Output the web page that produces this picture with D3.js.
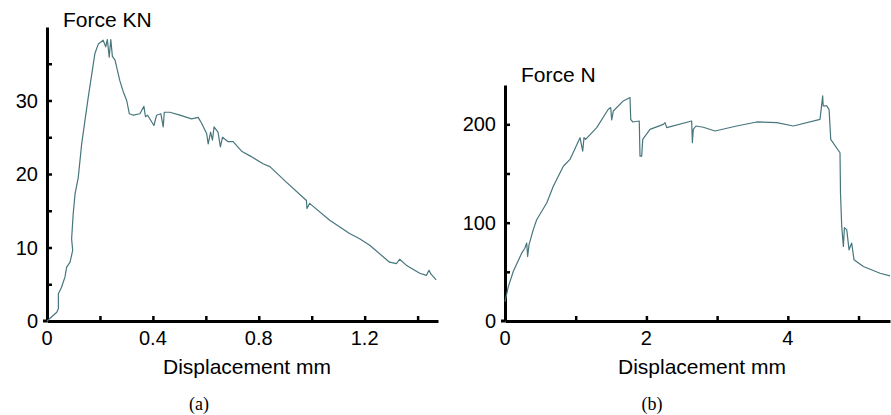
<!DOCTYPE html>
<html>
<head>
<meta charset="utf-8">
<style>
  body { margin: 0; background: #fff; }
  svg { display: block; }
  .curve { fill: none; stroke: #47767c; stroke-width: 1.2px; stroke-linejoin: round; }
  .axis path, .axis line { stroke: #000; }
  .axis path { stroke-width: 3px; }
  .axis line { stroke-width: 2.5px; }
  .axis text { font-family: "Liberation Sans", Arial, sans-serif; font-size: 20px; fill: #000; }
  .title { font-family: "Liberation Sans", Arial, sans-serif; font-size: 21px; fill: #000; }
  .caption { font-family: "Liberation Serif", "Times New Roman", serif; font-size: 18px; fill: #000; }
</style>
</head>
<body>
<svg width="891" height="415"></svg>
<script src="https://d3js.org/d3.v7.min.js"></script>
<script>

// (a) force in kN against displacement in mm
var dispA = [0, 0.037, 0.043, 0.043, 0.055, 0.068, 0.074, 0.087, 0.097, 0.093, 0.099, 0.106, 0.118, 0.131, 0.156,
  0.181, 0.194, 0.212, 0.222, 0.228, 0.235, 0.241, 0.247, 0.257, 0.275, 0.288, 0.301, 0.311, 0.326, 0.351,
  0.366, 0.372, 0.38, 0.404, 0.414, 0.43, 0.439, 0.443, 0.464, 0.502, 0.546, 0.571, 0.584, 0.603, 0.609,
  0.618, 0.625, 0.631, 0.646, 0.655, 0.663, 0.684, 0.703, 0.735, 0.77, 0.816, 0.842, 0.904, 0.98, 0.982,
  0.992, 1.068, 1.143, 1.181, 1.219, 1.294, 1.32, 1.332, 1.357, 1.408, 1.433, 1.443, 1.45, 1.47];
var forceA = [0, 1.2, 1.7, 3.7, 4.6, 6.0, 7.3, 8.0, 9.6, 11.2, 14.6, 17.3, 19.5, 24.1, 30.5,
  36.4, 37.7, 38.2, 37.3, 38.3, 35.9, 38.3, 36.0, 35.5, 32.7, 31.2, 30.0, 28.2, 28.0, 28.2,
  29.2, 27.8, 28.0, 26.6, 28.0, 28.2, 26.4, 28.4, 28.4, 28.0, 27.5, 27.7, 26.9, 25.5, 24.1,
  25.7, 24.6, 26.4, 25.7, 23.7, 25.0, 24.4, 24.4, 23.1, 22.4, 21.4, 21.0, 18.9, 16.4, 15.3,
  16.0, 13.7, 11.9, 11.2, 10.3, 8.0, 7.8, 8.4, 7.6, 6.5, 6.2, 6.9, 6.4, 5.6];

// (b) force in N against displacement in mm
var dispB = [0, 0.047, 0.117, 0.236, 0.28, 0.307, 0.32, 0.34, 0.40, 0.448, 0.59, 0.683, 0.825, 0.919, 1.061,
  1.099, 1.117, 1.14, 1.297, 1.461, 1.495, 1.509, 1.532, 1.673, 1.768, 1.778, 1.806, 1.899, 1.909, 1.933,
  1.948, 2.05, 2.24, 2.263, 2.287, 2.64, 2.65, 2.663, 2.7, 2.805, 2.97, 3.277, 3.56, 3.843, 4.078,
  4.455, 4.493, 4.50, 4.55, 4.583, 4.607, 4.738, 4.745, 4.762, 4.786, 4.80, 4.833, 4.866, 4.903, 4.936,
  5.068, 5.304, 5.445];
var forceB = [19.7, 35, 50.3, 69, 74, 79.3, 65.6, 77.6, 92.9, 103, 120, 137, 157.4, 164.3, 186.4,
  172.8, 186.4, 184.7, 196.6, 215.3, 217, 204.4, 213.6, 223.8, 227.2, 205.1, 202.4, 203.4, 167.7, 167.7,
  184.7, 194.9, 200, 201.7, 196.6, 203.4, 181.3, 194.9, 198.3, 197, 193.2, 198.3, 202.4, 201.7, 198.3,
  205.1, 228.9, 218.7, 218.7, 215.3, 184.7, 171.1, 130, 96.2, 75.8, 95, 92.9, 72.4, 79.3, 62.2,
  55.4, 48.6, 45.9];

var xTicksA = [0.2, 0.4, 0.6, 0.8, 1.0, 1.2, 1.4], xLabelsA = [0, 0.4, 0.8, 1.2];
var yTicksA = [5, 10, 15, 20, 25, 30, 35], yLabelsA = [0, 10, 20, 30];
var xTicksB = [1, 2, 3, 4, 5], xLabelsB = [0, 2, 4];
var yTicksB = [50, 100, 150, 200], yLabelsB = [0, 100, 200];

var svg = d3.select("svg");

function panel(o) {
  var x = d3.scaleLinear().domain(o.xDomain).range([o.left, o.right]),
      y = d3.scaleLinear().domain(o.yDomain).range([o.bottom, o.top]);

  // tick marks point inward, labels drawn separately
  svg.append("g").attr("class", "axis")
      .attr("transform", "translate(0," + o.bottom + ")")
      .call(d3.axisBottom(x).tickValues(o.xTicks).tickSizeInner(-5).tickSizeOuter(0).tickFormat(""));
  svg.append("g").attr("class", "axis")
      .attr("transform", "translate(" + o.left + ",0)")
      .call(d3.axisLeft(y).tickValues(o.yTicks).tickSizeInner(-5).tickSizeOuter(0).tickFormat(""));

  svg.append("g").attr("class", "axis")
    .selectAll("text").data(o.xLabels).enter().append("text")
      .attr("x", function(d) { return x(d); })
      .attr("y", o.bottom + 24)
      .attr("text-anchor", "middle")
      .text(function(d) { return d; });
  svg.append("g").attr("class", "axis")
    .selectAll("text").data(o.yLabels).enter().append("text")
      .attr("x", o.left - 9)
      .attr("y", function(d) { return y(d); })
      .attr("dy", "0.35em")
      .attr("text-anchor", "end")
      .text(function(d) { return d; });

  // small stub of the x axis left of the corner
  svg.append("line")
      .attr("x1", o.left - 4).attr("x2", o.left)
      .attr("y1", o.bottom).attr("y2", o.bottom)
      .attr("stroke", "#000").attr("stroke-width", 3);

  var line = d3.line()
      .x(function(d) { return x(d[0]); })
      .y(function(d) { return y(d[1]); });
  svg.append("path")
      .attr("class", "curve")
      .attr("d", line(d3.zip(o.xs, o.ys)));

  svg.append("text").attr("class", "title")
      .attr("x", o.left + 16).attr("y", o.titleY)
      .text(o.yTitle);
  svg.append("text").attr("class", "title")
      .attr("x", o.xTitleX).attr("y", 374)
      .attr("text-anchor", "middle")
      .text("Displacement mm");
  svg.append("text").attr("class", "caption")
      .attr("x", o.capX).attr("y", 410)
      .attr("text-anchor", "middle")
      .text(o.caption);
}

panel({
  xs: dispA, ys: forceA,
  xDomain: [0, 1.477], yDomain: [0, 40],
  left: 47, right: 438, top: 27, bottom: 321,
  xTicks: xTicksA, yTicks: yTicksA, xLabels: xLabelsA, yLabels: yLabelsA,
  yTitle: "Force KN", titleY: 27, xTitleX: 247, capX: 199, caption: "(a)"
});

panel({
  xs: dispB, ys: forceB,
  xDomain: [0, 5.445], yDomain: [0, 240],
  left: 505, right: 890, top: 85, bottom: 321,
  xTicks: xTicksB, yTicks: yTicksB, xLabels: xLabelsB, yLabels: yLabelsB,
  yTitle: "Force N", titleY: 82, xTitleX: 702, capX: 652, caption: "(b)"
});

</script>
</body>
</html>
